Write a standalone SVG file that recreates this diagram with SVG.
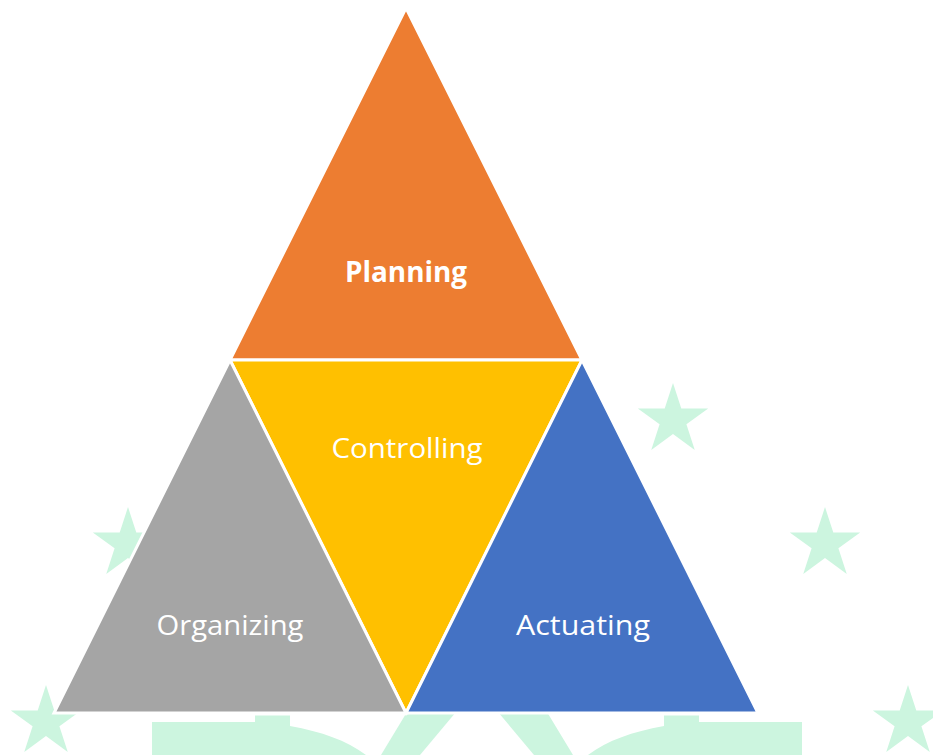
<svg xmlns="http://www.w3.org/2000/svg" width="933" height="755" viewBox="0 0 933 755">
<style>
.wm{fill:#CCF5DF;stroke:none}
.tri{stroke:#FFFFFF;stroke-width:3;stroke-linejoin:miter}
.lbl{font-family:"Open Sans","Liberation Sans",sans-serif;font-size:28px;fill:#FFFFFF;text-anchor:middle}
</style>
<defs>
<path id="star" d="M0,-37 L8.29,-11.41 L35.19,-11.43 L13.41,4.36 L21.75,29.93 L0,14.1 L-21.75,29.93 L-13.41,4.36 L-35.19,-11.43 L-8.29,-11.41 Z"/>
</defs>
<rect width="933" height="755" fill="#FFFFFF"/>
<g id="watermark">
<use href="#star" class="wm" transform="translate(673,420)"/>
<use href="#star" class="wm" transform="translate(825,544)"/>
<use href="#star" class="wm" transform="translate(128,544)"/>
<use href="#star" class="wm" transform="translate(46,722)"/>
<use href="#star" class="wm" transform="translate(908,722)"/>
<path class="wm" d="M152,722 L255,722 L255,715.5 L290,715.5 L290,726 C322,732 346,740 366,755 L152,755 Z"/>
<path class="wm" d="M802,722 L699,722 L699,715.5 L664,715.5 L664,726 C632,732 608,740 588,755 L802,755 Z"/>
<polygon class="wm" points="407,712 456,712 420,755 381,755"/>
<polygon class="wm" points="547,712 498,712 534,755 573,755"/>
</g>
<g id="planning">
<polygon class="tri" fill="#ED7D31" points="406,8 582,360 230,360"/>
<text class="lbl" x="406" y="282" font-weight="bold" textLength="122" lengthAdjust="spacingAndGlyphs">Planning</text>
</g>
<g id="controlling">
<polygon class="tri" fill="#FFC000" points="230,360 582,360 406,713"/>
<text class="lbl" x="407" y="458" textLength="151" lengthAdjust="spacingAndGlyphs">Controlling</text>
</g>
<g id="organizing">
<polygon class="tri" fill="#A5A5A5" points="230,360 406,713 54,713"/>
<text class="lbl" x="230" y="635" textLength="147" lengthAdjust="spacingAndGlyphs">Organizing</text>
</g>
<g id="actuating">
<polygon class="tri" fill="#4472C4" points="582,360 758,713 406,713"/>
<text class="lbl" x="583" y="635" textLength="134" lengthAdjust="spacingAndGlyphs">Actuating</text>
</g>
<g id="connectors"></g>
</svg>
